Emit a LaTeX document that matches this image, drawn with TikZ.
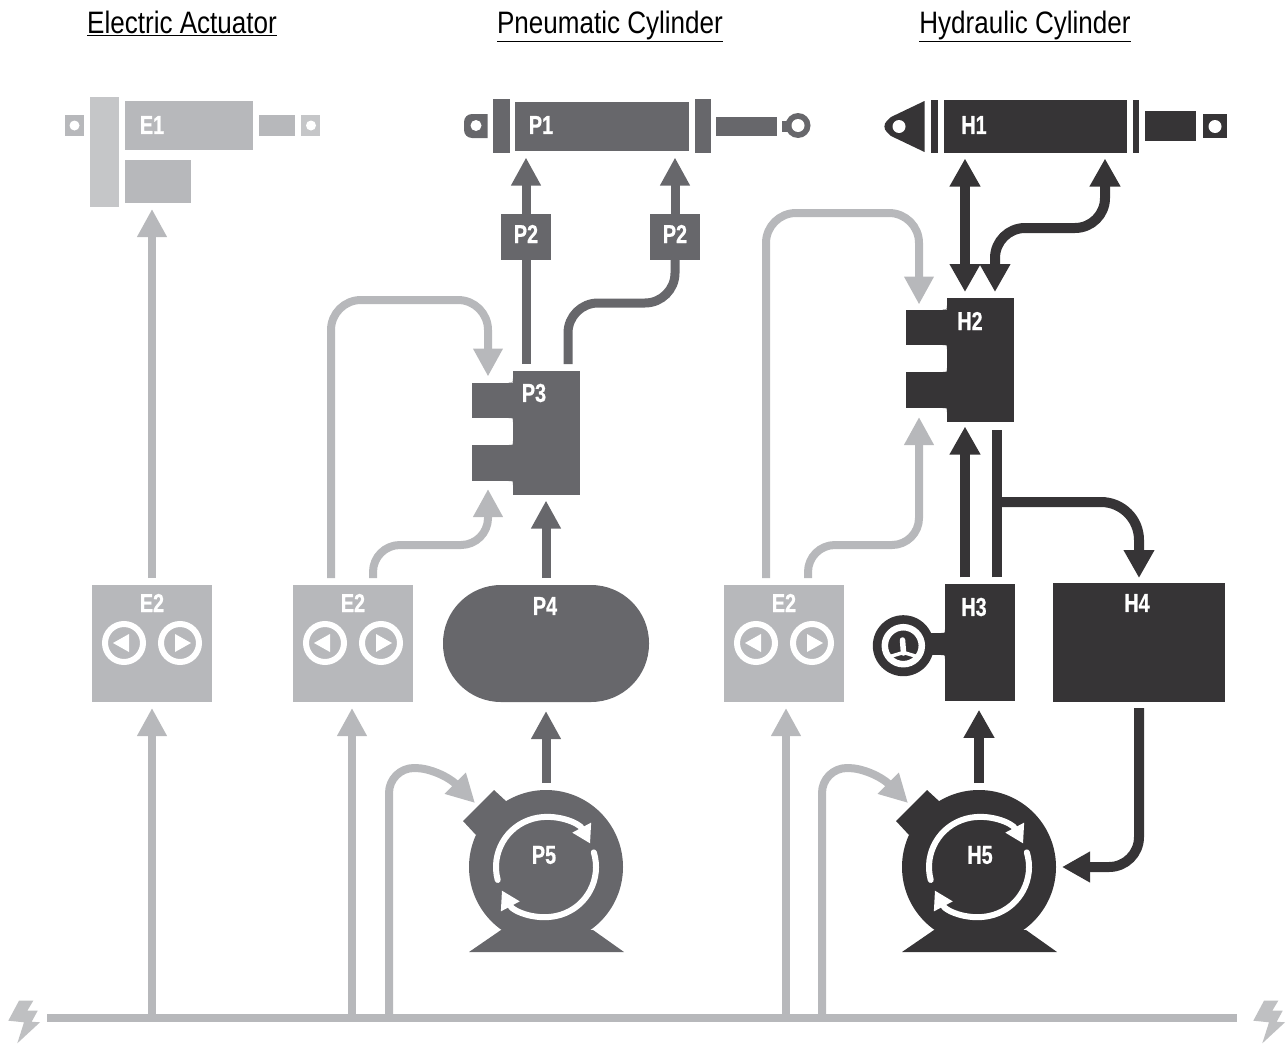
\documentclass[tikz,border=0pt]{standalone}
\usepackage{fontspec}
\setmainfont{Liberation Sans}
\newfontfamily\titlefont{Liberation Sans}[FakeStretch=.84]
\newfontfamily\partfont{Liberation Sans}[FakeStretch=.76, BoldFeatures={FakeBold=.6}]
\usetikzlibrary{arrows.meta}

\definecolor{elecgrey}{HTML}{B7B8BB}
\definecolor{eleclight}{HTML}{C5C6C8}
\definecolor{boltgrey}{HTML}{BFC0C2}
\definecolor{pneugrey}{HTML}{67676B}
\definecolor{hydrgrey}{HTML}{363436}

\tikzset{
  part/.style={rectangle, inner sep=0, outer sep=0, anchor=north west},
  dim/.style 2 args={minimum width=#1, minimum height=#2},
  hole/.style={circle, fill=white, inner sep=0, outer sep=0},
  title/.style={anchor=base, font=\titlefont\fontsize{31}{31}\selectfont},
  tag/.style={text=white, font=\partfont\bfseries\fontsize{26}{26}\selectfont},
  pipe/.style={line width=#1, rounded corners=30pt, shorten <=7pt, shorten >=8pt},
  elec line/.style={pipe=8pt, draw=elecgrey, -{Triangle[length=28pt, width=28pt]}},
  pneu line/.style={pipe=9pt, draw=pneugrey, -{Triangle[length=28pt, width=28pt]}},
  hydr line/.style={pipe=10pt, draw=hydrgrey, -{Triangle[length=28pt, width=29pt]}},
  turn/.style={line width=6pt, draw=white, line cap=round, -{Triangle[length=18pt, width=20pt]}}
}

\begin{document}
\begin{tikzpicture}[x=1pt, y=-1pt]
\useasboundingbox (0,0) rectangle (1287,1044);

% Column titles
\foreach \n/\x/\l in {elec/182/Electric Actuator, pneu/610/Pneumatic Cylinder, hydr/1025/Hydraulic Cylinder}
  \node [title] (title-\n) at (\x,33.5) {\underline{\l}};

% Electric actuator
\node [part, dim={29.5}{110}, fill=eleclight] (e1-plate) at (89.5,97) {};
\node [part, dim={128}{49}, fill=elecgrey] (e1-body) at (125,101) {};
\node [part, dim={65.5}{43}, fill=elecgrey] (e1-box) at (125,160) {};
\node [part, dim={36.5}{20.5}, fill=elecgrey] (e1-rod) at (258.5,115) {};
\node [part, dim={19.5}{20.5}, fill=elecgrey] (e1-ear-a) at (64.5,115) {};
\node [part, dim={19}{20.5}, fill=eleclight] (e1-ear-b) at (301,115) {};

% Pneumatic cylinder
\node [part, dim={174.5}{49}, fill=pneugrey] (p1-body) at (514.5,101.5) {};
\node [part, dim={16.5}{53.5}, fill=pneugrey] (p1-plate-a) at (493,99.3) {};
\node [part, dim={16.5}{53.5}, fill=pneugrey] (p1-plate-b) at (694.5,99.3) {};
\node [part, dim={61}{18.5}, fill=pneugrey] (p1-rod) at (716,117) {};
\node [part, dim={6}{11}, fill=pneugrey] (p1-stub) at (782,120.5) {};
\node [circle, inner sep=0, minimum size=25, fill=pneugrey] (p1-ring) at (798,125.5) {};
\fill [pneugrey] (487.5,114) [rounded corners=8pt] -- (464,114) -- (464,138) [sharp corners] -- (487.5,138) -- cycle;

% Hydraulic cylinder
\node [part, dim={183}{52.5}, fill=hydrgrey] (h1-body) at (943.7,100) {};
\node [part, dim={6.5}{52.5}, fill=hydrgrey] (h1-plate-a) at (931,100) {};
\node [part, dim={6}{52.5}, fill=hydrgrey] (h1-plate-b) at (1132.7,100) {};
\node [part, dim={51.5}{30}, fill=hydrgrey] (h1-rod) at (1144.7,111) {};
\node [part, dim={24}{24}, fill=hydrgrey] (h1-ear) at (1202.5,114.3) {};
\fill [hydrgrey] (924.5,101) -- (891,117) [rounded corners=8pt] -- (881,126.5) [sharp corners] -- (891,136) -- (924.5,152) -- cycle;

% Holes in the cylinder ears
\foreach \n/\x/\y/\d in {e-a/74.5/125.5/10, e-b/311/125.5/10, p-a/476/125.5/11, p-b/798/125.5/13, h-a/899/126.5/13, h-b/1215/126.5/13}
  \node [hole, minimum size=\d] (hole-\n) at (\x,\y) {};

% Flow control valves
\foreach \n/\x in {a/526, b/675}
  \node [part, dim={50}{46}, fill=pneugrey] (p2-\n) at (\x-25,214) {};

% Directional valves
\foreach \n/\x/\y/\c in {P/472/371/pneugrey, H/906/298/hydrgrey} {
  \node [part, dim={67}{123.5}, fill=\c] (valve-\n) at (\x+40.7,\y) {};
  \node [part, dim={41}{35.5}, fill=\c] (port-\n-a) at (\x,\y+11.5) {};
  \node [part, dim={41}{36}, fill=\c] (port-\n-b) at (\x,\y+74) {};
  \foreach \a/\s in {11.5/-1, 47/1, 74/-1, 110/1}
    \fill [\c] (\x+36.7,\y+\a) .. controls (\x+40.7,\y+\a) .. (\x+40.7,\y+\a+\s*4) -- (\x+40.7,\y+\a) -- cycle;
}

% Control boxes with their buttons
\foreach \n/\x in {a/152, b/353, c/784} {
  \node [part, dim={120}{117}, fill=elecgrey] (ctrl-\n) at (\x-60,585) {};
  \node [tag] (ctrl-\n-tag) at (\x,603) {E2};
  \foreach \s/\d in {l/-1, r/1} {
    \node [circle, draw=white, line width=6pt, inner sep=0, minimum size=38] (btn-\n-\s) at (\x+\d*28,643) {};
    \fill [white] (\x+\d*28+\d*11,643) -- (\x+\d*28-\d*5,634) -- (\x+\d*28-\d*5,652) -- cycle;
  }
}

% Reservoir, pump block and tank
\node [part, dim={206}{117}, rounded corners=58pt, fill=pneugrey] (tank) at (443,585) {};
\node [part, dim={70}{116.5}, fill=hydrgrey] (pump) at (945,584.3) {};
\node [part, dim={172}{119}, fill=hydrgrey] (sump) at (1053,583) {};

% Pressure gauge
\node [part, dim={20}{22}, fill=hydrgrey] (gauge-neck) at (927,633) {};
\foreach \a/\s in {633/-1, 655/1}
  \fill [hydrgrey] (941,\a) .. controls (945,\a) .. (945,\a+\s*4) -- (945,\a) -- cycle;
\node [circle, inner sep=0, minimum size=61, fill=hydrgrey] (gauge) at (903.3,645.7) {};
\node [circle, draw=white, line width=6.5pt, inner sep=0, minimum size=37] (gauge-dial) at (903.3,645.7) {};
\draw [white, line width=5.5pt, line cap=round] (902.5,640) -- (903.5,653);
\draw [white, line width=3.5pt] (890,656.5) -- (903.5,652.5) -- (917,656.5);

% Motors
\foreach \n/\x/\c in {P5/546/pneugrey, H5/979/hydrgrey} {
  \begin{scope}[shift={(\x,867)}]
    \fill [\c] (-83,-46) -- (-52,-77) -- (-39,-65) -- (-70,-32) -- cycle;
    \fill [\c] (-45,63) -- (-77,85) -- (78,85) -- (47,63) -- cycle;
    \node [circle, inner sep=0, outer sep=0, minimum size=154, fill=\c] (motor-\n) at (0,0) {};
    \draw [turn] (165:50) arc [start angle=165, end angle=332, radius=50];
    \draw [turn] (-17:50) arc [start angle=-17, end angle=152, radius=50];
  \end{scope}
}

% Part labels
\foreach \n/\x/\y/\l in {e1/152/125/E1, p1/541/125/P1, h1/974/125/H1, pa/526/234/P2, pb/675/234/P2,
  p3/534/393/P3, h2/970/321/H2, p4/545/606/P4, h3/974/607/H3, h4/1137/603/H4, p5/544/855/P5, h5/980/855/H5}
  \node [tag] (tag-\n) at (\x,\y) {\l};

% Supply line and bolts
\node [part, dim={1190}{8}, fill=elecgrey] (bus) at (47,1014) {};
\foreach \n/\x in {l/0, r/1245}
  \fill [boltgrey] (\x+19,1000.7) -- (\x+33.3,1000.7) -- (\x+27.3,1010.7) -- (\x+37.7,1010.7) -- (\x+31.7,1021.7)
    -- (\x+40,1022.3) -- (\x+17.3,1043.3) -- (\x+24,1022.3) -- (\x+8.3,1020.7) -- cycle;

% Route points
\coordinate (b-l) at (331,300);
\coordinate (b-r) at (373,545);
\coordinate (c-l) at (766,213);
\coordinate (c-r) at (808,545);
\coordinate (in-P) at (488,0);
\coordinate (in-H) at (919,0);
\coordinate (p-out) at (568,303);
\coordinate (h-a) at (965,0);
\coordinate (h-b) at (995,228);
\coordinate (h-c) at (1105,0);
\coordinate (h-ret) at (997,502);

% Electric connections
\foreach \n/\o in {a/0, b/-1, c/2}
  \draw [elec line, shorten >=6pt] ([xshift=\o pt]ctrl-\n.south |- bus.south) -- ([xshift=\o pt]ctrl-\n.south);
\draw [elec line, shorten >=6pt] (ctrl-a.north) -- (ctrl-a.north |- e1-box.south);
\draw [elec line, rounded corners=27pt] (b-r |- ctrl-b.north) -- (b-r) -- (b-r -| in-P) -- (in-P |- port-P-b.south);
\draw [elec line, shorten >=6pt] (b-l |- ctrl-b.north) -- (b-l) -- (b-l -| in-P) -- (in-P |- port-P-a.north);
\draw [elec line, rounded corners=27pt, shorten >=9pt] (c-r |- ctrl-c.north) -- (c-r) -- (c-r -| in-H) -- (in-H |- port-H-b.south);
\draw [elec line, shorten >=5pt] (c-l |- ctrl-c.north) -- (c-l) -- (c-l -| in-H) -- (in-H |- port-H-a.north);

% Motor feeds
\foreach \n/\x in {P5/546, H5/979}
  \draw [elec line, rounded corners=25pt, shorten >=0pt] (\x-157,1022) -- (\x-157,768) -- (\x-106,768) -- (\x-71,803);

% Pneumatic connections
\draw [pneu line, shorten >=9pt] (motor-P5.north) -- (tank.south);
\draw [pneu line, shorten >=6pt] (tank.north) -- (tank.north |- valve-P.south);
\draw [pneu line, -, shorten >=0pt] (p2-a.south |- valve-P.north) -- (p2-a.south);
\draw [pneu line, -, shorten >=0pt] (p-out |- valve-P.north) -- (p-out) -- (p-out -| p2-b.south) -- (p2-b.south);
\foreach \n in {a,b}
  \draw [pneu line, shorten <=0pt, shorten >=7pt] (p2-\n.north) -- (p2-\n.north |- p1-body.south);

% Hydraulic connections
\draw [hydr line, shorten >=9pt] (motor-H5.north) -- (motor-H5.north |- pump.south);
\draw [hydr line, shorten >=5pt] (h-a |- pump.north) -- (h-a |- valve-H.south);
\draw [hydr line, -] (h-ret |- pump.north) -- (h-ret |- valve-H.south);
\draw [hydr line, shorten <=0pt, shorten >=5pt, rounded corners=38pt] (h-ret) -- (h-ret -| sump.north) -- (sump.north);
\draw [hydr line, shorten <=6pt, shorten >=6pt] (sump.south) -- (sump.south |- motor-H5.east) -- (motor-H5.east);
\draw [hydr line, {Triangle[length=28pt, width=29pt]}-{Triangle[length=28pt, width=29pt]}, shorten <=6pt, shorten >=6pt] (h-a |- valve-H.north) -- (h-a |- h1-body.south);
\draw [hydr line, {Triangle[length=28pt, width=29pt]}-{Triangle[length=28pt, width=29pt]}, shorten <=6pt, shorten >=6pt] (h-b |- valve-H.north) -- (h-b) -- (h-b -| h-c) -- (h-c |- h1-body.south);
\end{tikzpicture}
\end{document}
